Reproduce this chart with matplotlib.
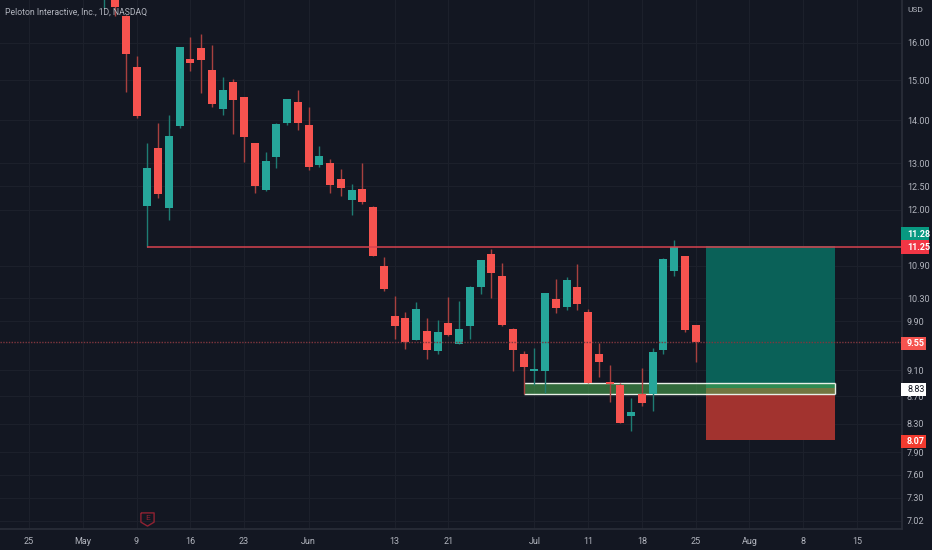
import matplotlib
matplotlib.use("Agg")
import matplotlib.pyplot as plt
from matplotlib.ticker import FixedLocator, NullLocator, FixedFormatter
from matplotlib.patches import Rectangle

plt.rcParams['font.family'] = ['Liberation Sans Narrow', 'Roboto', 'DejaVu Sans']

title = "Peloton Interactive, Inc., 1D, NASDAQ"
first_bar = 7
opens = [17.30, 17.90, 16.77, 15.35, 12.07, 13.35, 12.03, 13.87, 15.57, 15.86, 15.27, 14.28, 14.96, 14.57, 13.46, 12.41,
         13.14, 13.94, 14.45, 13.89, 12.96, 13.00, 12.65, 12.20, 12.43, 12.05, 10.89, 10.00, 9.95, 9.58, 9.73, 9.40,
         9.87, 9.52, 9.82, 10.50, 11.11, 10.70, 9.77, 9.36, 9.08, 9.09, 10.28, 10.14, 10.50, 10.06, 9.36, 8.91, 8.87,
         8.41, 8.73, 8.73, 9.42, 10.79, 11.09, 9.84]
highs = [18.20, 18.20, 16.80, 15.65, 13.46, 13.94, 14.13, 15.89, 16.17, 16.25, 15.94, 15.09, 15.04, 14.58, 13.47, 13.25,
         13.94, 14.53, 14.75, 14.33, 13.39, 13.09, 12.87, 12.54, 13.00, 12.07, 11.06, 10.34, 10.06, 10.23, 9.95, 9.92,
         10.32, 10.25, 10.53, 11.00, 11.21, 10.94, 9.78, 9.40, 9.45, 10.39, 10.65, 10.68, 10.92, 10.11, 9.53, 9.18, 8.90,
         8.67, 9.13, 9.45, 11.04, 11.39, 11.09, 9.84]
lows = [17.00, 16.77, 14.70, 14.06, 11.25, 12.24, 11.79, 13.82, 15.24, 14.67, 14.33, 14.13, 13.67, 13.03, 12.35, 12.40,
        12.89, 13.89, 13.77, 12.85, 12.92, 12.35, 12.28, 11.89, 12.12, 11.09, 10.44, 9.60, 9.44, 9.58, 9.28, 9.36,
        9.66, 9.52, 9.60, 10.37, 10.30, 9.82, 9.08, 8.73, 8.87, 8.75, 10.04, 10.09, 10.09, 8.90, 9.00, 8.61, 8.31,
        8.20, 8.55, 8.48, 9.36, 10.70, 9.72, 9.23]
closes = [17.90, 17.03, 15.70, 14.11, 12.89, 12.33, 13.62, 15.89, 15.46, 15.54, 14.40, 14.75, 14.50, 13.60, 12.50, 13.05,
          13.91, 14.52, 13.94, 12.92, 13.16, 12.52, 12.46, 12.41, 12.16, 11.09, 10.46, 9.82, 9.55, 10.11, 9.42, 9.72,
          9.67, 9.77, 10.50, 11.00, 10.76, 9.84, 9.42, 9.15, 9.12, 10.39, 10.13, 10.63, 10.20, 8.90, 9.23, 8.89, 8.31,
          8.46, 8.60, 9.39, 11.02, 11.25, 9.75, 9.55]

date_pos = [0, 5, 10, 15, 20, 26, 34, 39, 47, 52, 57, 62, 67, 72, 77]
date_labels = ["25", "May", "9", "16", "23", "Jun", "13", "21", "Jul", "11", "18", "25", "Aug", "8", "15"]
price_ticks = [16.00, 15.00, 14.00, 13.00, 12.50, 12.00, 10.90, 10.30, 9.90, 9.10, 8.70, 8.30, 7.90, 7.60, 7.30, 7.02]
price_labels = ["16.00", "15.00", "14.00", "13.00", "12.50", "12.00", "10.90", "10.30", "9.90", "9.10", "8.70",
                "8.30", "7.90", "7.60", "7.30", "7.02"]

resistance = 11.25
resistance_start = 11
last_price = 9.55
target = 11.28
entry = 8.83
stop = 8.07
pos_start, pos_end = 63, 75
zone_top, zone_bottom, zone_start = 8.90, 8.73, 46
earnings_bar, earnings_y = 11, 7.04

BG = "#131722"
GRID = "#1c202b"
AXIS = "#2a2e39"
TXT = "#b2b5be"
UP, DOWN = "#26a69a", "#f6534f"
UPW, DOWNW = "#1e7c73", "#a8403f"

fig = plt.figure(figsize=(9.32, 5.5), dpi=100, facecolor=BG)
ax = fig.add_axes([0, 21 / 550, 902 / 932, 529 / 550], facecolor=BG)
ax.set_yscale("log")
ax.set_xlim(-2.7, 81.2)
ax.set_ylim(6.92, 17.23)

ax.yaxis.tick_right()
ax.yaxis.set_major_locator(FixedLocator(price_ticks))
ax.yaxis.set_major_formatter(FixedFormatter(price_labels))
ax.yaxis.set_minor_locator(NullLocator())
ax.xaxis.set_major_locator(FixedLocator(date_pos))
ax.xaxis.set_major_formatter(FixedFormatter(date_labels))
ax.xaxis.set_minor_locator(NullLocator())
ax.tick_params(axis="both", length=0, labelsize=6.5, labelcolor=TXT)
ax.tick_params(axis="y", pad=3.5)
ax.tick_params(axis="x", pad=5.5)
ax.grid(True, color=GRID, lw=0.8, zorder=0)
ax.set_axisbelow(True)
for s in ("top", "left"):
    ax.spines[s].set_visible(False)
for s in ("right", "bottom"):
    ax.spines[s].set_color(AXIS)
    ax.spines[s].set_linewidth(1.2)

# position tool
ax.fill_between([pos_start, pos_end], entry, target, color="#0a6158", lw=0, zorder=1.2)
ax.fill_between([pos_start, pos_end], stop, entry, color="#a2332f", lw=0, zorder=1.2)

# demand zone sits under the candles
ax.fill_between([zone_start, pos_end], zone_bottom, zone_top, color="#4caf50", alpha=0.55, lw=0, zorder=1.4)
ax.hlines([zone_top, zone_bottom], zone_start, pos_end, color="#e8efe6", lw=1.0, zorder=1.6)
ax.vlines(pos_end, zone_bottom, zone_top, color="#e8efe6", lw=1.0, zorder=1.6)

# candles
for k, (o, h, l, c) in enumerate(zip(opens, highs, lows, closes)):
    x = first_bar + k
    up = c >= o
    ax.vlines(x, l, h, color=UPW if up else DOWNW, lw=1.0, zorder=2)
    ax.bar(x, abs(c - o), bottom=min(o, c), width=0.74, color=UP if up else DOWN, lw=0, zorder=3)

# resistance and last price
ax.hlines(resistance, resistance_start, 81.2, color="#d8434f", lw=1.1, zorder=4)
ax.hlines(last_price, -2.7, 81.2, color="#7f363e", lw=1.0, linestyles=(0, (1, 1)), zorder=4)

# earnings marker
shield = [(-1, 1), (1, 1), (1, -0.4), (0, -1), (-1, -0.4), (-1, 1)]
ax.plot([earnings_bar], [earnings_y], marker=shield, ms=9.5, mfc="none", mec="#8f2232", mew=1.0, ls="none", zorder=6)
ax.text(earnings_bar, earnings_y * 1.002, "E", color="#8f2232", fontsize=6, ha="center", va="center", zorder=7)

# title and currency
fig.text(5 / 932, 1 - 12 / 550, title, color=TXT, fontsize=6.2, va="center", ha="left")
fig.text(907 / 932, 1 - 10 / 550, "USD", color=TXT, fontsize=6.0, va="center", ha="left")

# price badges
badges = [("11.28", "#089981", "#ffffff", 234),
          ("11.25", "#f23645", "#ffffff", 247),
          ("9.55", "#f6534f", "#ffffff", 343),
          ("8.83", "#ffffff", "#131722", 389),
          ("8.07", "#f23b2f", "#ffffff", 441)]
for lab, bg, fg, ypx in badges:
    w = 28 if lab.startswith("11") else 25
    fig.add_artist(Rectangle((901 / 932, 1 - (ypx + 6.5) / 550), w / 932, 13 / 550, transform=fig.transFigure,
                             facecolor=bg, edgecolor="none", zorder=10))
    fig.text(907 / 932, 1 - ypx / 550, lab, color=fg, fontsize=6.5, va="center", ha="left", zorder=11,
             fontweight="bold" if fg == "#ffffff" else "normal")

fig.savefig("out.png", dpi=100, facecolor=BG)
